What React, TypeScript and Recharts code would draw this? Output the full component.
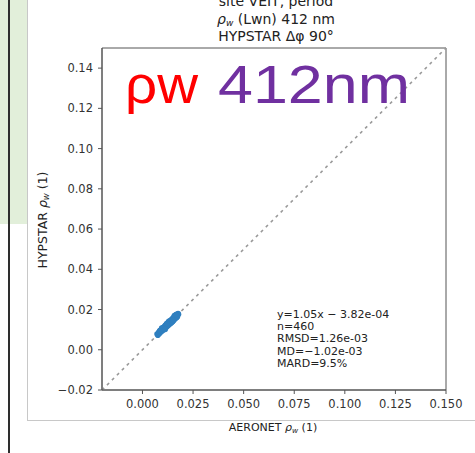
import React from "react";
import {
  ScatterChart,
  Scatter,
  XAxis,
  YAxis,
  ReferenceLine,
  ReferenceArea,
} from "recharts";

// AERONET vs HYPSTAR water reflectance at 412 nm
const aeronetRho = [
  0.0072, 0.0076, 0.0080, 0.0082, 0.0085, 0.0087, 0.0090, 0.0092, 0.0094, 0.0097,
  0.0099, 0.0101, 0.0104, 0.0106, 0.0108, 0.0111, 0.0113, 0.0115, 0.0118, 0.0120,
  0.0122, 0.0125, 0.0127, 0.0129, 0.0132, 0.0134, 0.0136, 0.0139, 0.0141, 0.0143,
  0.0146, 0.0148, 0.0150, 0.0153, 0.0155, 0.0158, 0.0160, 0.0163, 0.0165, 0.0168,
  0.0170, 0.0173, 0.0176, 0.0178, 0.0108, 0.0117, 0.0126, 0.0138, 0.0149, 0.0161,
  0.0095, 0.0112, 0.0130, 0.0145, 0.0158, 0.0170, 0.0088, 0.0121, 0.0152, 0.0166,
];
const hypstarRho = [
  0.0078, 0.0072, 0.0087, 0.0080, 0.0094, 0.0084, 0.0098, 0.0089, 0.0102, 0.0093,
  0.0108, 0.0097, 0.0112, 0.0102, 0.0116, 0.0106, 0.0121, 0.0110, 0.0125, 0.0114,
  0.0130, 0.0119, 0.0135, 0.0123, 0.0139, 0.0127, 0.0144, 0.0131, 0.0148, 0.0136,
  0.0153, 0.0140, 0.0157, 0.0145, 0.0162, 0.0150, 0.0167, 0.0155, 0.0171, 0.0160,
  0.0176, 0.0165, 0.0180, 0.0176, 0.0103, 0.0125, 0.0120, 0.0142, 0.0141, 0.0166,
  0.0108, 0.0101, 0.0141, 0.0137, 0.0170, 0.0162, 0.0096, 0.0131, 0.0146, 0.0175,
];

// linear fit reported in the stats box
const fitSlope = 1.05;
const fitIntercept = -3.82e-4;
const fitRange = [0.0078, 0.0178];

const xTicks = [0, 0.025, 0.05, 0.075, 0.1, 0.125, 0.15];
const yTicks = [-0.02, 0, 0.02, 0.04, 0.06, 0.08, 0.1, 0.12, 0.14];
const axisMin = -0.02;
const axisMax = 0.15;

const titleLines = ["site VEIT, period", "(Lwn) 412 nm", "HYPSTAR Δφ 90°"];
const statLines = [
  "y=1.05x − 3.82e-04",
  "n=460",
  "RMSD=1.26e-03",
  "MD=−1.02e-03",
  "MARD=9.5%",
];

const points = aeronetRho.map((x, i) => ({ x, y: hypstarRho[i] }));
const fitSegment = fitRange.map((x) => ({ x, y: fitSlope * x + fitIntercept }));

const fmtY = (v: number) => v.toFixed(2).replace("-", "−");
const fmtX = (v: number) => v.toFixed(3);

const MPL = "DejaVu Sans, sans-serif";
const tickStyle = { fontSize: 11.5, fill: "#333", fontFamily: MPL };

export default function App() {
  return (
    <div
      style={{
        position: "absolute",
        left: 0,
        top: 0,
        width: 475,
        height: 453,
        background: "#fff",
        overflow: "hidden",
      }}
    >
      <div
        style={{
          position: "absolute",
          left: 0,
          top: 0,
          width: 27,
          height: 224,
          background: "#e2efda",
        }}
      />
      <div
        style={{
          position: "absolute",
          left: 8,
          top: 0,
          width: 2,
          height: 453,
          background: "#2e2e2e",
        }}
      />
      <div
        style={{
          position: "absolute",
          left: 27,
          top: -2,
          width: 470,
          height: 421,
          border: "1px solid #c8c8c8",
          background: "#fff",
        }}
      />
      <div style={{ position: "absolute", left: 0, top: 0 }}>
        <ScatterChart
          width={475}
          height={453}
          margin={{ top: 48, right: 29, bottom: 33, left: 62 }}
        >
          <XAxis
            type="number"
            dataKey="x"
            domain={[axisMin, axisMax]}
            ticks={xTicks}
            tickFormatter={fmtX}
            allowDataOverflow
            height={30}
            tickSize={4}
            tickMargin={6}
            stroke="#555"
            tick={tickStyle}
          />
          <YAxis
            type="number"
            dataKey="y"
            domain={[axisMin, axisMax]}
            ticks={yTicks}
            tickFormatter={fmtY}
            allowDataOverflow
            width={40}
            tickSize={4}
            tickMargin={5}
            stroke="#555"
            tick={tickStyle}
          />
          <ReferenceArea
            x1={axisMin}
            x2={axisMax}
            y1={axisMin}
            y2={axisMax}
            fill="none"
            stroke="#555"
            strokeWidth={1}
          />
          <ReferenceLine
            segment={[
              { x: axisMin, y: axisMin },
              { x: axisMax, y: axisMax },
            ]}
            stroke="#999"
            strokeWidth={1.6}
            strokeDasharray="3 4"
          />
          <Scatter
            data={points}
            fill="#2f7fbf"
            isAnimationActive={false}
            shape={(p: any) => (
              <circle cx={p.cx} cy={p.cy} r={2.8} fill="#2f7fbf" />
            )}
          />
          <ReferenceLine
            segment={fitSegment}
            stroke="#d0283a"
            strokeOpacity={0.85}
            strokeWidth={2}
          />
        </ScatterChart>
      </div>
      <svg
        width={475}
        height={453}
        style={{ position: "absolute", left: 0, top: 0, pointerEvents: "none" }}
      >
        <g fontFamily={MPL} fill="#222" fontSize={14} textAnchor="middle">
          <text x={276} y={6}>{titleLines[0]}</text>
          <text x={276} y={24}>
            <tspan fontStyle="italic">ρ</tspan>
            <tspan fontStyle="italic" fontSize={9} dy={2}>w</tspan>
            <tspan dy={-2}> {titleLines[1]}</tspan>
          </text>
          <text x={276} y={41}>{titleLines[2]}</text>
        </g>
        <text
          fontFamily={MPL}
          fill="#222"
          fontSize={11}
          textAnchor="middle"
          x={273}
          y={431}
        >
          AERONET <tspan fontStyle="italic">ρ</tspan>
          <tspan fontStyle="italic" fontSize={7.5} dy={2}>w</tspan>
          <tspan dy={-2}> (1)</tspan>
        </text>
        <text
          fontFamily={MPL}
          fill="#222"
          fontSize={12.5}
          textAnchor="middle"
          transform="translate(47,220) rotate(-90)"
        >
          HYPSTAR <tspan fontStyle="italic">ρ</tspan>
          <tspan fontStyle="italic" fontSize={8.5} dy={2}>w</tspan>
          <tspan dy={-2}> (1)</tspan>
        </text>
        <g fontFamily={MPL} fill="#222" fontSize={11}>
          {statLines.map((s, i) => (
            <text key={i} x={277} y={318 + i * 12.2}>
              {s}
            </text>
          ))}
        </g>
        <g fontFamily="Liberation Sans, Arial, sans-serif" fontSize={53}>
          <text x={125} y={103} fill="#ff0000" textLength={73} lengthAdjust="spacingAndGlyphs">
            ρw
          </text>
          <text x={218} y={103} fill="#7030a0" textLength={192} lengthAdjust="spacingAndGlyphs">
            412nm
          </text>
        </g>
      </svg>
    </div>
  );
}
